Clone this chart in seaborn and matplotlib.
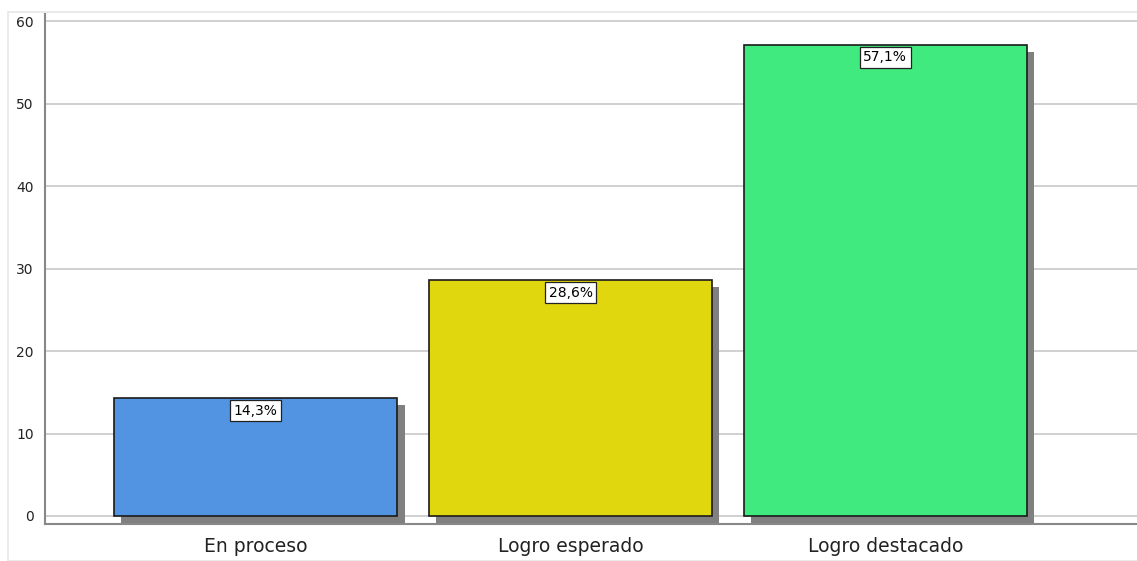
import matplotlib
matplotlib.use("Agg")
import matplotlib.pyplot as plt
import matplotlib.patheffects as pe
from matplotlib.patches import Rectangle
import pandas as pd
import seaborn as sns

# data
categories = ['En proceso', 'Logro esperado', 'Logro destacado']
percent = [14.3, 28.6, 57.1]
bar_colors = ['#5294E2', '#E1D70F', '#40EA7E']
y_ticks = [0, 10, 20, 30, 40, 50, 60]

df = pd.DataFrame({'nivel': categories, 'pct': percent})

sns.set_style('white')
plt.rcParams['font.family'] = ['DejaVu Sans']

fig = plt.figure(figsize=(11.37, 5.61), dpi=100)
# outer light frame like the SPSS viewer
fig.patches.append(Rectangle((8 / 1137, 0), 1.0, 1 - 12 / 561, transform=fig.transFigure,
                             fill=False, edgecolor='#e6e6e6', linewidth=1.2))
ax = fig.add_axes([45 / 1137, 1 - 524 / 561, 1 - 45 / 1137, (524 - 14) / 561])

sns.barplot(data=df, x='nivel', y='pct', hue='nivel', palette=bar_colors,
            saturation=1, width=0.9, edgecolor='#1a1a1a', linewidth=1.2,
            legend=False, ax=ax, zorder=3)

for bar in ax.patches:
    bar.set_path_effects([
        pe.SimplePatchShadow(offset=(5.2, -5.2), shadow_rgbFace='#808080', alpha=1.0),
        pe.Normal(),
    ])

for i, v in enumerate(percent):
    ax.annotate(f'{v:.1f}%'.replace('.', ','), xy=(i, v), xytext=(0, -9),
                textcoords='offset points', ha='center', va='center', fontsize=10,
                color='black', zorder=5,
                bbox=dict(boxstyle='square,pad=0.25', facecolor='white',
                          edgecolor='#222222', linewidth=0.9))

ax.set_xlim(-0.67, 2.8)
ax.set_ylim(-0.97, 60.85)
ax.set_yticks(y_ticks)
ax.yaxis.grid(True, color='#c8c8c8', linewidth=1.2, zorder=0)
ax.set_axisbelow(True)
ax.set_xlabel('')
ax.set_ylabel('')
ax.tick_params(axis='y', length=0, pad=8, labelsize=10, labelcolor='#222222')
ax.tick_params(axis='x', length=0, pad=9, labelsize=13.5, labelcolor='#222222')

for side in ['top', 'right']:
    ax.spines[side].set_visible(False)
ax.spines['left'].set_color('#888888')
ax.spines['bottom'].set_color('#888888')
ax.spines['left'].set_linewidth(1.5)
ax.spines['bottom'].set_linewidth(1.5)

fig.savefig('out.png', dpi=100)
